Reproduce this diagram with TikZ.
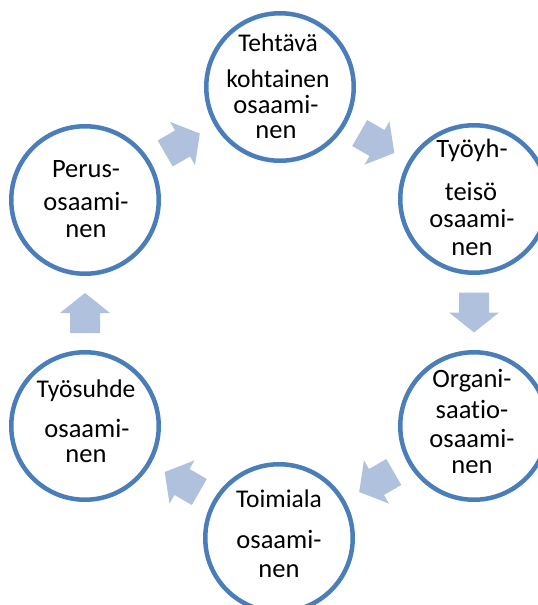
\documentclass[tikz,border=0pt]{standalone}
\usepackage{fontspec}
\setmainfont{Carlito}[Ligatures=NoCommon]
\usetikzlibrary{calc}
\definecolor{ringblue}{HTML}{4A7EBB}
\definecolor{arrowblue}{HTML}{B0C1DE}
\tikzset{
  ring/.style={circle, draw=ringblue, line width=4.5pt, minimum size=147.5pt, inner sep=0pt, fill=white},
  lbl/.style={anchor=base, inner sep=0pt, font=\fontsize{26.5}{30}\selectfont, text=black},
  lblsmall/.style={lbl, font=\fontsize{25.5}{30}\selectfont},
  blockarrow/.style={fill=arrowblue}
}
\newcommand\flowarrow[3]{%
  \begin{scope}[shift={($(#1)!0.5!(#2)$)}, rotate=#3]
    \fill[blockarrow] (-20,-15) -- (0,-15) -- (0,-25) -- (20,0) -- (0,25) -- (0,15) -- (-20,15) -- cycle;
  \end{scope}}
\begin{document}
\begin{tikzpicture}[x=1pt,y=-1pt]
\useasboundingbox (0,0) rectangle (538,605);
\clip (0,0) rectangle (538,605);
% circles
\node[ring] (T)  at (280,87)  {};
\node[ring] (UR) at (474,199) {};
\node[ring] (LR) at (474,426) {};
\node[ring] (B)  at (279,538) {};
\node[ring] (LL) at (85,426)  {};
\node[ring] (UL) at (85,200)  {};
% block arrows
\flowarrow{UL}{T}{30}
\flowarrow{T}{UR}{-30}
\flowarrow{UR}{LR}{-90}
\flowarrow{LR}{B}{-150}
\flowarrow{B}{LL}{150}
\flowarrow{LL}{UL}{90}
% texts
\node[lblsmall] (t1) at ($(T)+(-2,-36)$) {Tehtävä};
\node[lblsmall] (t2) at ($(T)+(-2,0)$)  {kohtainen};
\node[lbl] (t3) at ($(T)+(-4,26)$)  {osaami-};
\node[lbl] (t4) at ($(T)+(-4,51)$)  {nen};
\node[lbl] (u1) at ($(UR)+(-2,-42)$) {Työyh-};
\node[lbl] (u2) at ($(UR)+(-3,1)$)   {teisö};
\node[lbl] (u3) at ($(UR)+(-2,28)$)  {osaami-};
\node[lbl] (u4) at ($(UR)+(-2,56)$)  {nen};
\node[lbl] (r1) at ($(LR)+(-2,-39)$) {Organi-};
\node[lbl] (r2) at ($(LR)+(-2,-8)$)  {saatio-};
\node[lbl] (r3) at ($(LR)+(-2,21)$)  {osaami-};
\node[lbl] (r4) at ($(LR)+(-2,47)$)  {nen};
\node[lblsmall] (b1) at ($(B)+(0,-31)$) {Toimiala};
\node[lbl] (b2) at ($(B)+(0,10)$)  {osaami-};
\node[lbl] (b3) at ($(B)+(0,39)$)  {nen};
\node[lblsmall] (l1) at ($(LL)+(1,-29)$) {Työsuhde};
\node[lbl] (l2) at ($(LL)+(2,11)$)  {osaami-};
\node[lbl] (l3) at ($(LL)+(1,36)$)  {nen};
\node[lbl] (p1) at ($(UL)+(1,-23)$) {Perus-};
\node[lbl] (p2) at ($(UL)+(1,10)$)  {osaami-};
\node[lbl] (p3) at ($(UL)+(1,37)$)  {nen};
\end{tikzpicture}
\end{document}
